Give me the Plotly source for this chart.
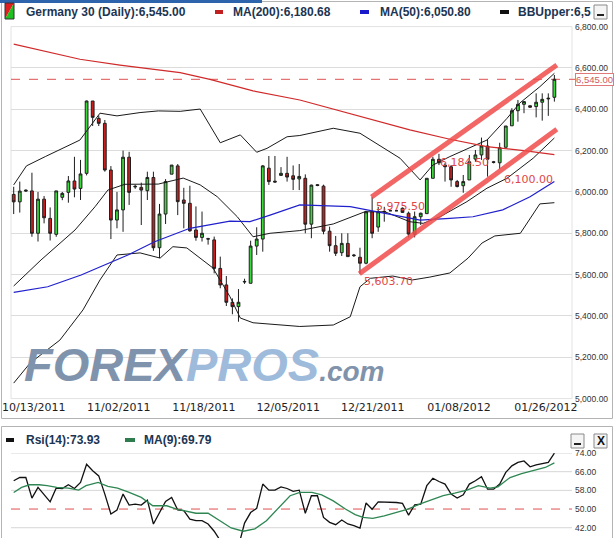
import plotly.graph_objects as go

W, H = 615, 538


def fx(px):
    return px / W


def fy(py):
    return 1 - py / H


# ---------------- data ----------------
date_ticks = [3.3, 17.3, 31.3, 45.2, 59.1, 73.3, 87.6]
date_labels = ["10/13/2011", "11/02/2011", "11/18/2011", "12/05/2011",
               "12/21/2011", "01/08/2012", "01/26/2012"]
price_ticks = [5000, 5200, 5400, 5600, 5800, 6000, 6200, 6400, 6600, 6800]
rsi_ticks = [42, 50, 58, 66, 74]
rsi_grid = [42, 58, 66, 74]
rsi_mid = 50

opens = [5988, 5952, 6004, 6005, 5800, 5965, 5872, 5795, 5974, 5998,
         6053, 6017, 6090, 6440, 6356, 6332, 6106, 5864, 5913, 6168,
         6024, 6022, 6006, 6070, 5730, 5893, 6086, 6126, 5961, 5945,
         5816, 5780, 5774, 5768, 5630, 5550, 5466, 5445, 5567, 5558,
         5738, 5772, 6115, 6052, 6080, 6090, 6078, 6063, 6066, 5844,
         6035, 6028, 5810, 5740, 5706, 5751, 5695, 5684, 5655, 5904,
         5830, 5905, 5909, 5909, 5921, 5897, 5796, 5880, 5895, 6066,
         6158, 6130, 6122, 6050, 6030, 6058, 6159, 6179, 6222, 6146,
         6141, 6216, 6320, 6393, 6424, 6417, 6413, 6434, 6450, 6458]
highs = [6025, 6050, 6012, 6093, 6000, 5980, 5925, 6005, 6000, 6077,
         6170, 6155, 6442, 6440, 6370, 6348, 6125, 6000, 6200, 6194,
         6035, 6045, 6098, 6098, 5942, 6062, 6130, 6135, 6020, 6030,
         5930, 5905, 5778, 5784, 5687, 5593, 5485, 5530, 5580, 5764,
         5829, 6130, 6174, 6174, 6120, 6170, 6128, 6135, 6085, 6035,
         6038, 6035, 5832, 5787, 5800, 5800, 5700, 5730, 5908, 5975.5,
         5928, 5928, 5909, 5909, 5925, 5905, 5905, 5900, 6066, 6170,
         6184.5, 6139, 6130, 6058, 6082, 6179, 6203, 6263, 6255, 6150,
         6238, 6319, 6405, 6445, 6437, 6418, 6477, 6477, 6477, 6566]
lows = [5893, 5900, 6000, 5783, 5760, 5848, 5765, 5783, 5960, 5948,
        5974, 5961, 6080, 6319, 6319, 6098, 5772, 5824, 5807, 5937,
        6015, 5840, 5961, 5715, 5680, 5845, 6086, 5888, 5824, 5807,
        5764, 5760, 5745, 5606, 5534, 5448, 5408, 5372, 5555, 5558,
        5695, 5711, 6034, 6045, 6080, 6050, 6009, 6009, 5800, 5776,
        6028, 5795, 5711, 5690, 5690, 5687, 5685, 5603.7, 5650, 5776,
        5807, 5856, 5909, 5909, 5898, 5780, 5780, 5840, 5895, 6066,
        6130, 6050, 6025, 6022, 5996, 6058, 6146, 6155, 6074, 6138,
        6110, 6216, 6320, 6340, 6381, 6409, 6361, 6345, 6368, 6437]
closes = [5952, 6004, 6008, 5800, 5965, 5875, 5800, 6005, 5993, 6053,
          6014, 6087, 6440, 6361, 6332, 6106, 5864, 5913, 6168, 5998,
          6027, 6009, 6070, 5730, 5893, 6050, 6130, 5953, 5945, 5812,
          5780, 5800, 5772, 5630, 5550, 5466, 5445, 5466, 5565, 5738,
          5772, 6126, 6050, 6048, 6090, 6072, 6061, 6075, 5844, 6033,
          6031, 5810, 5740, 5703, 5751, 5687, 5692, 5655, 5904, 5800,
          5904, 5903, 5909, 5909, 5901, 5796, 5880, 5897, 6066, 6158,
          6141, 6122, 6058, 6026, 6050, 6146, 6179, 6222, 6158, 6143,
          6214, 6319, 6393, 6424, 6437, 6410, 6434, 6448, 6453, 6545]
candle_idx = list(range(len(opens)))

ma200_idx = [0, 5.0, 10.9, 17.5, 27.4, 32.3, 39.4, 47.1, 55.4, 65.2, 71.8, 77.9, 84.0, 89]
ma200_val = [6715, 6681, 6642, 6614, 6577, 6545, 6489, 6445, 6379, 6300, 6255, 6219, 6200, 6181]

ma50_idx = [0, 5.6, 11.1, 15.5, 18.8, 23.2, 29.0, 35.6, 38.9, 42.2, 47.1, 55.4, 62.4,
            66.9, 71.8, 75.6, 80.5, 85.0, 89]
ma50_val = [5514, 5541, 5598, 5655, 5695, 5759, 5824, 5859, 5856, 5888, 5937, 5929, 5888,
            5864, 5872, 5880, 5913, 5977, 6051]

bbu_idx = [0, 2.1, 5.2, 10.9, 14.2, 17.0, 20.8, 23.8, 27.4, 30.7, 34.0, 37.3, 40.0, 41.7,
           45.0, 47.1, 52.6, 57.0, 63.6, 66.9, 69.0, 71.8, 77.9, 81.2, 83.3, 86.6, 89]
bbu_val = [6034, 6126, 6171, 6251, 6381, 6368, 6384, 6392, 6390, 6401, 6238, 6276, 6192, 6211,
           6267, 6273, 6308, 6284, 6163, 6058, 6130, 6171, 6251, 6356, 6430, 6509, 6574]

bbm_idx = [0, 4.5, 10.1, 13.4, 15.5, 18.3, 23.8, 27.9, 30.7, 33.5, 36.8, 39.4, 42.2, 47.1,
           52.6, 57.8, 61.1, 65.2, 67.4, 70.2, 74.6, 77.9, 81.2, 85.5, 89]
bbm_val = [5545, 5671, 5816, 5929, 6009, 6037, 6038, 6067, 6034, 5977, 5880, 5783, 5800, 5813,
           5845, 5904, 5904, 5856, 5848, 5880, 5953, 6018, 6066, 6163, 6261]

bbl_idx = [0, 2.7, 7.6, 11.4, 14.2, 17.0, 20.8, 24.1, 26.2, 28.5, 32.8, 35.6, 37.3, 39.4,
           47.1, 52.6, 55.4, 57.0, 58.7, 62.4, 65.6, 68.5, 71.8, 74.8, 77.1, 79.2, 83.4, 86.6, 89]
bbl_val = [5075, 5172, 5283, 5429, 5574, 5695, 5705, 5680, 5735, 5729, 5632, 5493, 5390, 5367,
           5349, 5356, 5396, 5541, 5582, 5593, 5574, 5588, 5608, 5680, 5753, 5787, 5800, 5942, 5948]

chan_low_idx = [56.9, 89.4]
chan_low_val = [5603.7, 6303]
chan_up_idx = [58.9, 89.4]
chan_up_val = [5975.5, 6614]

rsi14 = [62.1, 63.5, 63.5, 54.7, 59.3, 56.4, 53.1, 59.0, 58.8, 60.4,
         58.8, 61.4, 69.2, 66.4, 64.2, 56.4, 47.9, 49.6, 56.4, 51.7,
         52.1, 51.7, 53.8, 43.6, 48.6, 53.3, 55.0, 49.6, 49.3, 45.7,
         45.0, 45.0, 43.6, 40.5, 36.5, 33.0, 31.5, 34.0, 44.0, 48.5,
         50.3, 60.7, 58.1, 58.1, 59.5, 58.8, 57.6, 58.1, 48.2, 55.7,
         55.7, 46.4, 44.3, 43.3, 45.3, 43.6, 42.9, 41.8, 52.6, 49.9,
         53.1, 53.1, 53.0, 52.8, 52.4, 47.4, 51.8, 52.1, 60.0, 63.2,
         61.8, 60.7, 56.4, 54.7, 56.1, 60.7, 62.1, 63.8, 58.5, 58.5,
         60.7, 65.7, 68.5, 70.0, 70.6, 68.1, 68.9, 69.5, 70.0, 73.93]

ma9_idx = [0, 1.3, 2.6, 4.2, 5.5, 7.1, 9.0, 10.7, 11.9, 13.9, 15.5, 17.1, 19.0, 21.0, 22.9,
           25.2, 26.8, 28.7, 30.0, 32.0, 33.9, 35.8, 37.8, 39.7, 41.6, 43.6, 45.5, 47.1, 49.1,
           50.7, 52.6, 54.6, 56.2, 57.5, 59.1, 61.0, 62.9, 64.9, 66.8, 68.8, 70.7, 72.6, 74.6,
           76.5, 78.4, 79.7, 81.7, 83.6, 85.5, 87.5, 89.0]
ma9_val = [57.1, 59.3, 60.4, 60.4, 60.0, 59.3, 59.0, 58.1, 60.0, 61.4, 59.7, 59.0, 57.1, 55.0, 51.4,
           51.4, 50.0, 49.0, 48.2, 48.2, 45.0, 41.9, 40.5, 41.5, 45.0, 50.7, 55.7, 57.1, 57.1,
           56.1, 53.5, 50.0, 47.6, 46.4, 46.0, 47.1, 48.6, 50.0, 52.1, 53.8, 55.7, 56.8, 58.1,
           60.0, 59.0, 59.5, 63.5, 65.2, 66.4, 67.8, 69.79]

# legend values
last_close = closes[-1]
ma200_last = 6180.68
ma50_last = 6050.80
rsi_last = 73.93
ma9_last = 69.79

# ---------------- figure ----------------
fig = go.Figure()

fig.add_trace(go.Candlestick(
    x=candle_idx, open=opens, high=highs, low=lows, close=closes,
    xaxis="x", yaxis="y",
    increasing=dict(fillcolor="#3cd83c", line=dict(color="#1e1e1e", width=1)),
    decreasing=dict(fillcolor="#c81e1e", line=dict(color="#1e1e1e", width=1)),
    whiskerwidth=0, showlegend=False, hoverinfo="skip"))

for xs, ys in [(bbu_idx, bbu_val), (bbm_idx, bbm_val), (bbl_idx, bbl_val)]:
    fig.add_trace(go.Scatter(x=xs, y=ys, mode="lines", xaxis="x", yaxis="y",
                             line=dict(color="#1a1a1a", width=1), showlegend=False,
                             hoverinfo="skip"))
fig.add_trace(go.Scatter(x=ma50_idx, y=ma50_val, mode="lines", xaxis="x", yaxis="y",
                         line=dict(color="#2020cc", width=1.2), showlegend=False,
                         hoverinfo="skip"))
fig.add_trace(go.Scatter(x=ma200_idx, y=ma200_val, mode="lines", xaxis="x", yaxis="y",
                         line=dict(color="#d02a2a", width=1.2), showlegend=False,
                         hoverinfo="skip"))
for xs, ys in [(chan_low_idx, chan_low_val), (chan_up_idx, chan_up_val)]:
    fig.add_trace(go.Scatter(x=xs, y=ys, mode="lines", xaxis="x", yaxis="y",
                             line=dict(color="rgba(240,75,75,0.85)", width=5),
                             showlegend=False, hoverinfo="skip"))

fig.add_trace(go.Scatter(x=candle_idx, y=rsi14, mode="lines", xaxis="x2", yaxis="y2",
                         line=dict(color="#111111", width=1.3), showlegend=False,
                         hoverinfo="skip"))
fig.add_trace(go.Scatter(x=ma9_idx, y=ma9_val, mode="lines", xaxis="x2", yaxis="y2",
                         line=dict(color="#2e8652", width=1.3), showlegend=False,
                         hoverinfo="skip"))

x_left_px, x_right_px = 11, 572
xr = [(x_left_px - 13.7) / 6.075, (x_right_px - 13.7) / 6.075]
tick_font = dict(family="Liberation Sans Narrow, Arial Narrow, Liberation Sans", size=8.5,
                 color="#333333")

fig.update_layout(
    width=W, height=H, margin=dict(l=0, r=0, t=0, b=0, autoexpand=False),
    paper_bgcolor="white", plot_bgcolor="white",
    hovermode=False, showlegend=False, boxgap=0.35,
    xaxis=dict(domain=[fx(x_left_px), fx(x_right_px)], range=xr, anchor="y",
               rangeslider=dict(visible=False), showgrid=False, zeroline=False,
               showline=False, ticks="", tickvals=date_ticks, ticktext=date_labels,
               ticklabelstandoff=0, automargin=False,
               tickfont=dict(family="DejaVu Sans, Verdana", size=11, color="#1e1e1e")),
    yaxis=dict(domain=[fy(398.6), fy(26.6)], range=[5000, 6800], side="right",
               anchor="x", tickvals=price_ticks, tickformat=",.2f", showgrid=True,
               gridcolor="#dcdcdc", gridwidth=1, zeroline=False, showline=False,
               ticks="", ticklen=0, ticklabelstandoff=2, automargin=False,
               tickfont=tick_font),
    xaxis2=dict(domain=[fx(x_left_px), fx(x_right_px)], range=xr, anchor="y2",
                showgrid=False, zeroline=False, showline=False, showticklabels=False,
                ticks="", automargin=False),
    yaxis2=dict(domain=[0, fy(453)], range=[37.6, 74], side="right", anchor="x2",
                tickvals=rsi_ticks, tickformat=".2f", showgrid=False, zeroline=False,
                showline=False, ticks="", ticklen=0, ticklabelstandoff=2,
                automargin=False, tickfont=tick_font),
)

shapes = []
# panel frames
shapes.append(dict(type="rect", xref="paper", yref="paper", x0=fx(1.5), x1=fx(612.5),
                   y0=fy(418.5), y1=fy(1.5), line=dict(color="#b4b4b4", width=1),
                   layer="below"))
shapes.append(dict(type="rect", xref="paper", yref="paper", x0=fx(1.5), x1=fx(612.5),
                   y0=fy(545), y1=fy(426.5), line=dict(color="#b4b4b4", width=1),
                   layer="below"))
shapes.append(dict(type="rect", xref="paper", yref="paper", x0=0, x1=fx(262),
                   y0=fy(3), y1=1, fillcolor="#2e64ac", line=dict(width=0)))
# plot area frame
shapes.append(dict(type="rect", xref="x domain", yref="y domain", x0=0, x1=1, y0=0, y1=1,
                   line=dict(color="#e2e2e2", width=1), layer="below"))
# last price line
shapes.append(dict(type="line", xref="x domain", yref="y", x0=0, x1=1.008,
                   y0=last_close, y1=last_close,
                   line=dict(color="#e05050", width=1, dash="dash"), layer="below"))
# rsi grid
for g in rsi_grid:
    shapes.append(dict(type="line", xref="x2 domain", yref="y2", x0=0, x1=1, y0=g, y1=g,
                       line=dict(color="#d6d6d6", width=1), layer="below"))
shapes.append(dict(type="line", xref="x2 domain", yref="y2", x0=0, x1=1, y0=rsi_mid,
                   y1=rsi_mid, line=dict(color="#e05050", width=1, dash="dash"),
                   layer="below"))

# legend markers
legend_marks = [(215, 223, 12, "#c02020"), (360, 369, 12, "#1a1acc"),
                (500, 509, 12, "#111111"), (6, 14, 440, "#111111"),
                (125, 135, 440, "#2e7d4f")]
for x0, x1, yc, col in legend_marks:
    shapes.append(dict(type="rect", xref="paper", yref="paper", x0=fx(x0), x1=fx(x1),
                       y0=fy(yc + 2), y1=fy(yc - 2), fillcolor=col, line=dict(width=0)))
# candle icon
shapes.append(dict(type="path", xref="paper", yref="paper",
                   path=f"M {fx(5)},{fy(3)} L {fx(14)},{fy(3)} L {fx(5)},{fy(19)} Z",
                   fillcolor="#e02020", line=dict(width=0)))
shapes.append(dict(type="path", xref="paper", yref="paper",
                   path=f"M {fx(14)},{fy(3)} L {fx(14)},{fy(19)} L {fx(5)},{fy(19)} Z",
                   fillcolor="#20c020", line=dict(width=0)))
shapes.append(dict(type="rect", xref="paper", yref="paper", x0=fx(5), x1=fx(14),
                   y0=fy(19), y1=fy(3), line=dict(color="#333", width=1)))
# buttons
for bx0, by0 in [(594, 5), (571, 434), (594, 434)]:
    shapes.append(dict(type="rect", xref="paper", yref="paper", x0=fx(bx0), x1=fx(bx0 + 13),
                       y0=fy(by0 + 14), y1=fy(by0), fillcolor="#f4f4f4",
                       line=dict(color="#8a8a8a", width=1)))
for bx0, by0 in [(594, 5), (571, 434)]:
    shapes.append(dict(type="line", xref="paper", yref="paper", x0=fx(bx0 + 3),
                       x1=fx(bx0 + 10), y0=fy(by0 + 10), y1=fy(by0 + 10),
                       line=dict(color="#222", width=2)))
fig.update_layout(shapes=shapes)

ann = []
legend_font = dict(family="Liberation Sans, Arial", size=12, color="#1c3553")
ann.append(dict(xref="paper", yref="paper", x=fx(24), y=fy(12), xanchor="left",
                yanchor="middle", showarrow=False, font=legend_font,
                text=f"<b>Germany 30 (Daily):{last_close:,.2f}</b>"))
ann.append(dict(xref="paper", yref="paper", x=fx(231), y=fy(12), xanchor="left",
                yanchor="middle", showarrow=False, font=legend_font,
                text=f"<b>MA(200):{ma200_last:,.2f}</b>"))
ann.append(dict(xref="paper", yref="paper", x=fx(378), y=fy(12), xanchor="left",
                yanchor="middle", showarrow=False, font=legend_font,
                text=f"<b>MA(50):{ma50_last:,.2f}</b>"))
ann.append(dict(xref="paper", yref="paper", x=fx(516), y=fy(12), xanchor="left",
                yanchor="middle", showarrow=False, font=legend_font,
                text="<b>BBUpper:6,5</b>"))
ann.append(dict(xref="paper", yref="paper", x=fx(24), y=fy(440), xanchor="left",
                yanchor="middle", showarrow=False, font=legend_font,
                text=f"<b>Rsi(14):{rsi_last:.2f}</b>"))
ann.append(dict(xref="paper", yref="paper", x=fx(142), y=fy(440), xanchor="left",
                yanchor="middle", showarrow=False, font=legend_font,
                text=f"<b>MA(9):{ma9_last:.2f}</b>"))
ann.append(dict(xref="paper", yref="paper", x=fx(600.5), y=fy(441), xanchor="center",
                yanchor="middle", showarrow=False,
                font=dict(family="Liberation Sans", size=12, color="#111"), text="<b>X</b>"))

# last price box
ann.append(dict(xref="paper", yref="y", x=fx(575), y=last_close, xanchor="left",
                yanchor="middle", showarrow=False, text=f"{last_close:,.2f}",
                font=dict(family="Liberation Sans Narrow, Liberation Sans", size=9.5,
                          color="#d05a5a"),
                bgcolor="white", bordercolor="#e07a7a", borderwidth=1, borderpad=0))

# price labels
lab_font = dict(family="DejaVu Sans, Verdana", size=11, color="#e04848")
ann.append(dict(xref="x", yref="y", x=59, y=highs[59], xanchor="left", yanchor="middle",
                xshift=2, yshift=-9, showarrow=False, text=f"{highs[59]:,.2f}",
                font=lab_font))
ann.append(dict(xref="x", yref="y", x=57, y=lows[57], xanchor="left", yanchor="middle",
                xshift=2, yshift=-8, showarrow=False, text=f"{lows[57]:,.2f}",
                font=lab_font))
ann.append(dict(xref="x", yref="y", x=70, y=highs[70], xanchor="left", yanchor="middle",
                xshift=-1, yshift=-9, showarrow=False, text=f"{highs[70]:,.2f}",
                font=lab_font))
ann.append(dict(xref="x", yref="y", x=80.4, y=6100, xanchor="left", yanchor="middle",
                yshift=-8, showarrow=False, text=f"{6100:,.2f}", font=lab_font))

# watermark
ann.append(dict(xref="paper", yref="paper", x=fx(22), y=fy(364), xanchor="left",
                yanchor="middle", showarrow=False,
                text=("FOREX<span style='color:#9fbbdc'>PROS</span>"
                      "<span style='font-size:28px;color:#8093ab'>.com</span>"),
                font=dict(family="Liberation Sans Narrow, Arial Narrow, Liberation Sans",
                          size=47, color="#8093ad", weight="bold", style="italic")))

fig.update_layout(annotations=ann)

fig.write_html("out.html", config={"displayModeBar": False, "staticPlot": True},
               post_script="document.body.style.margin='0';document.body.style.padding='0';")
